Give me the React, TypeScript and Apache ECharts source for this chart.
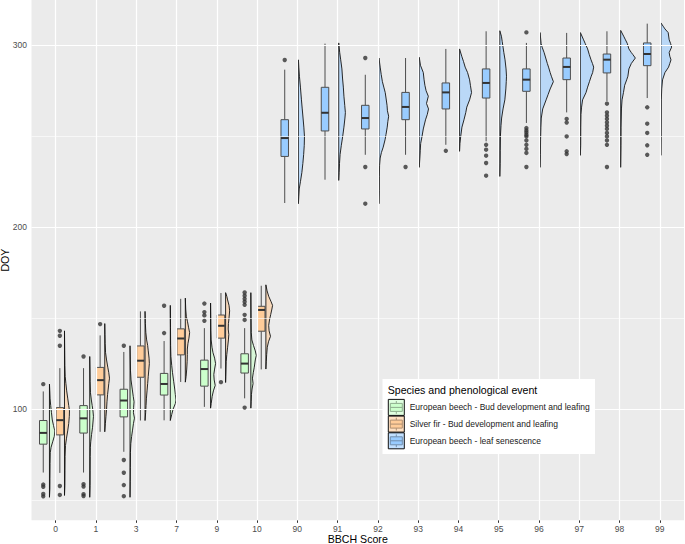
import { useEffect, useRef } from 'react';
import * as echarts from 'echarts';

// ---------- data ----------
const categories = ['0', '1', '3', '7', '9', '10', '90', '91', '92', '93', '94', '95', '96', '97', '98', '99'];
const yLabelValues = [100, 200, 300];
const majorGridY = [100, 200, 300];
const minorGridY = [50, 150, 250];
const seriesNames = [
  'European beech - Bud development and leafing',
  'Silver fir - Bud development and leafing',
  'European beech - leaf senescence',
];
const legendTitle = 'Species and phenological event';

// boxes: [categoryIndex, lowerWhisker, Q1, median, Q3, upperWhisker]
const beechBudBoxes = [
  [0, 65.1, 80.7, 86.9, 93.7, 109.7],
  [1, 65.1, 86.8, 94.9, 101.9, 122.5],
  [2, 76.5, 95.7, 104.7, 110.9, 131.4],
  [3, 93.8, 107.7, 113.8, 119.6, 137.4],
  [4, 101.2, 112.6, 122.0, 126.9, 144.5],
  [5, 105.9, 119.8, 125.0, 130.4, 144.5],
];
const firBudBoxes = [
  [0, 64.9, 85.8, 93.9, 100.8, 122.5],
  [1, 87.5, 107.8, 115.9, 122.9, 140.5],
  [2, 93.7, 117.5, 126.6, 134.7, 153.7],
  [3, 114.9, 129.8, 138.8, 144.1, 160.6],
  [4, 122.3, 139.0, 145.8, 151.7, 163.8],
  [5, 121.8, 142.8, 154.5, 156.5, 167.8],
];
const beechSenBoxes = [
  [6, 213.3, 238.9, 249.0, 259.1, 286.6],
  [7, 226.1, 252.9, 262.9, 276.9, 300.9],
  [8, 239.8, 254.0, 260.0, 267.0, 283.8],
  [9, 239.8, 259.1, 266.1, 274.1, 293.0],
  [10, 245.3, 265.0, 274.1, 279.3, 298.0],
  [11, 247.2, 271.0, 279.3, 287.0, 307.7],
  [12, 257.3, 274.7, 281.1, 287.0, 301.3],
  [13, 263.1, 281.1, 288.1, 293.0, 306.8],
  [14, 269.2, 284.8, 292.1, 295.2, 307.7],
  [15, 271.0, 288.8, 295.2, 301.3, 311.9],
];

// outliers: [categoryIndex, DOY]
const beechBudOutliers = [
  [0, 113.7], [0, 58.5], [0, 57.3], [0, 53.3], [0, 52.0],
  [1, 128.9], [1, 58.7], [1, 57.4], [1, 53.2], [1, 52.2],
  [2, 134.8], [2, 72.0], [2, 65.0], [2, 58.2], [2, 52.1],
  [3, 156.8], [3, 141.8],
  [4, 158.0], [4, 153.3], [4, 151.5], [4, 148.5],
  [5, 164.1], [5, 162.3], [5, 160.6], [5, 159.0], [5, 157.3], [5, 151.8], [5, 149.0], [5, 100.8],
];
const firBudOutliers = [
  [0, 143.0], [0, 140.3], [0, 134.8], [0, 57.7], [0, 52.8],
  [1, 146.7],
  [4, 114.8],
];
const beechSenOutliers = [
  [6, 291.9],
  [8, 293.0], [8, 233.1], [8, 212.9],
  [9, 233.1],
  [10, 242.0],
  [11, 245.3], [11, 242.6], [11, 239.3], [11, 235.3], [11, 228.3],
  [12, 307.1], [12, 254.5], [12, 253.2], [12, 252.1], [12, 250.8], [12, 249.9], [12, 247.7], [12, 245.3], [12, 243.0], [12, 240.8], [12, 233.1],
  [13, 259.5], [13, 257.5], [13, 249.9], [13, 241.7], [13, 240.2],
  [14, 267.9], [14, 263.1], [14, 261.3], [14, 259.5], [14, 257.6], [14, 255.8], [14, 254.0], [14, 251.8], [14, 249.9], [14, 247.7], [14, 245.3], [14, 233.1],
  [15, 265.9], [15, 256.9], [15, 251.8], [15, 245.0], [15, 239.8],
];

// half-violin densities: per category, list of [DOY, density (% of one category width)]
const beechBudViolinCats = [0, 1, 2, 3, 4, 5];
const beechBudViolins = [
  [[51.5, 0], [56, 1], [62, 1.2], [70, 1.5], [76, 2], [79, 4], [82, 8], [85, 12], [88, 13.2], [91, 10], [94, 7], [98, 5], [102, 3], [106, 1.5], [110, 0.8], [113.7, 0]],
  [[51.5, 0], [58, 0.8], [66, 1], [74, 1.2], [79, 1.5], [82, 2.5], [86, 4.5], [90, 7], [94, 8.5], [96, 9.2], [99, 8], [102, 6], [105, 4], [109, 1.8], [115, 1], [122, 0.6], [128.9, 0]],
  [[51.5, 0], [60, 0.5], [68, 0.8], [76, 1], [81, 2], [85, 4], [88, 6], [92, 8.5], [95, 11], [98, 8.5], [101, 9], [104, 10], [107, 8], [111, 5.5], [116, 2.5], [121, 1.2], [127, 0.7], [134.8, 0]],
  [[93.7, 0], [97, 3.5], [100, 7], [103, 12.5], [105, 14], [108, 12.5], [111, 11], [115, 8.5], [120, 5.5], [124, 3.5], [129, 1.5], [135, 0.8], [145, 0.5], [157, 0]],
  [[100.5, 0], [103, 1.5], [107, 4], [110, 7], [113, 11.5], [116, 9], [119, 8], [122, 10], [125, 12.4], [128, 10], [131, 6], [134, 3.5], [138, 1.5], [143, 0.8], [150, 0.5], [158.3, 0]],
  [[100.5, 0], [104, 0.8], [108, 1.5], [111, 3], [114, 5.5], [117, 4], [120, 6], [123, 8.5], [127, 11], [129.5, 13.5], [132, 11], [135, 6.5], [138, 2.5], [142, 1], [150, 0.5], [164, 0]],
];
const firBudViolinCats = [0, 1, 2, 3, 4, 5];
const firBudViolins = [
  [[52.5, 0], [58, 1], [66, 1.2], [74, 1.5], [80, 2.5], [84, 5], [88, 8], [92, 10.5], [96, 12], [99, 12.4], [102, 10.5], [106, 8], [110, 5.5], [114, 3.5], [118, 1.8], [124, 1], [132, 0.6], [143, 0]],
  [[87.5, 0], [92, 1.5], [96, 3], [100, 4.5], [104, 5.5], [108, 7], [111, 8.5], [114, 10], [117, 11.7], [120, 10], [123, 7.5], [127, 4.5], [131, 2], [136, 1], [141, 0.5], [147, 0]],
  [[93.7, 0], [98, 1.5], [102, 2.5], [106, 3.5], [110, 5], [114, 6.5], [118, 8], [122, 9.5], [125, 10.7], [128, 10], [132, 8], [135, 6.5], [138, 4], [142, 2], [147, 0.8], [153.7, 0]],
  [[114.8, 0], [118, 2], [122, 3.5], [126, 4.5], [130, 5], [133, 5], [136, 6.5], [139, 9], [142, 10.7], [145, 8], [148, 5.5], [151, 2.5], [155, 1], [161, 0]],
  [[114.6, 0], [118, 0.5], [122, 1], [126, 1.5], [130, 3], [134, 5], [138, 7], [141, 8], [144, 6.5], [147, 7], [150, 8.5], [154, 10], [157, 8.5], [160, 5], [162, 3], [164, 0]],
  [[122, 0], [126, 1], [130, 2], [134, 3.5], [137, 6.5], [140, 11.5], [143, 8], [146, 7], [149, 9], [152, 12], [155, 15], [157, 16.6], [159, 13], [162, 7], [165, 3], [168.3, 0]],
];
const beechSenViolinCats = [6, 7, 8, 9, 10, 11, 12, 13, 14, 15];
const beechSenViolins = [
  [[212.9, 0], [217, 1], [221, 2], [225, 5], [230, 8.5], [235, 11], [240, 13], [245, 14.5], [250, 15], [255, 13.5], [260, 11.5], [265, 9.5], [270, 7.5], [277, 5], [283, 2.5], [288, 1], [292, 0]],
  [[225.7, 0], [230, 1], [235, 2], [240, 3.5], [245, 6.5], [250, 10], [255, 13], [260, 15.5], [263, 16.6], [267, 15], [272, 13], [277, 11.5], [282, 9.5], [287, 8], [292, 5], [296, 2.5], [301.3, 0]],
  [[212.9, 0], [220, 0.8], [228, 1], [234, 1.5], [238, 3], [241, 6], [244, 10.5], [248, 15], [251, 17.5], [255, 20.5], [258, 22], [261, 24], [264, 21], [267, 20], [271, 17.5], [274, 15.5], [277, 12], [280, 8.5], [284, 5.5], [288, 3], [293, 0]],
  [[232.9, 0], [238, 1.5], [242, 2.5], [246, 3.5], [250, 7], [254, 10], [259, 15.5], [262, 20], [265, 23], [268, 18], [272, 22.5], [275, 17], [278, 14], [281, 12], [285, 10], [289, 3], [293.4, 0]],
  [[241.7, 0], [246, 1], [250, 3], [255, 6], [259, 11], [263, 15.5], [266, 18], [270, 25], [274, 29.8], [278, 27], [281, 25], [285, 20], [288, 14], [291, 10], [294, 5.5], [298, 0]],
  [[227.9, 0], [235, 0.8], [242, 1], [250, 1.5], [256, 3], [260, 4.5], [265, 8], [270, 12.5], [276, 15], [280, 16], [283, 16.6], [287, 15.5], [292, 13], [296, 10], [299, 8], [302, 6], [305, 4], [308, 0]],
  [[232.9, 0], [240, 0.8], [248, 1.2], [255, 2], [260, 3], [265, 6.5], [270, 15], [273, 20], [276, 25], [280, 33], [283, 28], [285, 25], [288, 21], [290, 18], [293, 14], [296, 10], [299, 5], [301, 2.5], [307, 0]],
  [[239.5, 0], [245, 0.8], [255, 1], [262, 1.5], [266, 3], [270, 5.5], [274, 14], [277, 18], [280, 22.5], [283, 27], [285, 30.5], [288, 33], [290, 30], [292, 26.5], [295, 22], [298, 18], [301, 12], [303, 8], [307, 0]],
  [[232.9, 0], [245, 0.8], [255, 1], [265, 2], [270, 3.5], [274, 7], [278, 10], [281, 15], [283, 18], [287, 20.5], [290, 26.5], [293, 36.5], [295, 30], [296, 26.5], [298, 20.5], [301, 16.5], [303, 12], [305, 7.5], [308.2, 0]],
  [[239.5, 0], [250, 0.5], [260, 0.8], [270, 1], [276, 2], [281, 4], [285, 10], [288, 19], [290, 22], [292, 25], [294, 22], [296, 20.5], [299, 26.6], [301, 24], [303, 20.5], [307, 18], [309, 10], [310.5, 5.5], [312.3, 0]],
];

// ---------- layout / style ----------
const FONT = "'Liberation Sans', Arial, Helvetica, sans-serif";
const BOX_W = 0.186;
const Y_MIN = 38.9;
const Y_MAX = 324.9;
const X_MIN = -0.6;
const X_MAX = 15.6;
const GROUPS = [
  { boxes: beechBudBoxes, outliers: beechBudOutliers, vCats: beechBudViolinCats, violins: beechBudViolins, boxOff: -0.308, vOff: -0.154, fill: '#CCFFCC', vFill: 'rgba(204,255,204,0.6)' },
  { boxes: firBudBoxes, outliers: firBudOutliers, vCats: firBudViolinCats, violins: firBudViolins, boxOff: 0.104, vOff: 0.219, fill: '#FFCC99', vFill: 'rgba(255,204,153,0.6)' },
  { boxes: beechSenBoxes, outliers: beechSenOutliers, vCats: beechSenViolinCats, violins: beechSenViolins, boxOff: -0.313, vOff: 0.027, fill: '#99CCFF', vFill: 'rgba(153,204,255,0.6)' },
];

function buildOption() {
  const catIdx = categories.map((_, i) => i);
  const series: any[] = [];

  series.push({
    type: 'scatter',
    name: 'grid',
    data: [],
    silent: true,
    z: 1,
    markLine: {
      silent: true,
      symbol: ['none', 'none'],
      label: { show: false },
      emphasis: { disabled: true },
      animation: false,
      data: [
        ...minorGridY.map((v) => ({ yAxis: v, lineStyle: { color: '#FFFFFF', width: 0.6, type: 'solid' } })),
        ...majorGridY.map((v) => ({ yAxis: v, lineStyle: { color: '#FFFFFF', width: 1.2, type: 'solid' } })),
        ...catIdx.map((v) => ({ xAxis: v, lineStyle: { color: '#FFFFFF', width: 1.2, type: 'solid' } })),
      ],
    },
  });

  GROUPS.forEach((g, gi) => {
    const shapes = g.violins;
    series.push({
      type: 'custom',
      name: seriesNames[gi] + ' violin',
      silent: true,
      z: 3,
      data: g.vCats.map((c, i) => [c, shapes[i][0][0], shapes[i][shapes[i].length - 1][0]]),
      encode: { x: 0, y: [1, 2] },
      renderItem: (params: any, api: any) => {
        const cat = api.value(0);
        const shape = shapes[params.dataIndex];
        const unit = api.size([1, 0])[0];
        const base = api.coord([cat + g.vOff, 100])[0];
        const pts = shape.map(([doy, d]: number[]) => [base + (d / 100) * unit, api.coord([cat + g.vOff, doy])[1]]);
        pts.push([base, pts[pts.length - 1][1]]);
        pts.push([base, pts[0][1]]);
        return {
          type: 'polygon',
          shape: { points: pts },
          style: { fill: g.vFill, stroke: '#111111', lineWidth: 0.9 },
        };
      },
    });
  });

  GROUPS.forEach((g, gi) => {
    series.push({
      type: 'custom',
      name: seriesNames[gi],
      silent: true,
      z: 4,
      data: g.boxes,
      encode: { x: 0, y: [1, 2, 3, 4, 5] },
      renderItem: (params: any, api: any) => {
        const xc = api.value(0) + g.boxOff;
        const half = api.size([BOX_W, 0])[0] / 2;
        const pLo = api.coord([xc, api.value(1)]);
        const yQ1 = api.coord([xc, api.value(2)])[1];
        const yMed = api.coord([xc, api.value(3)])[1];
        const yQ3 = api.coord([xc, api.value(4)])[1];
        const yHi = api.coord([xc, api.value(5)])[1];
        const x = pLo[0];
        const wStyle = { stroke: '#4D4D4D', lineWidth: 1 };
        return {
          type: 'group',
          children: [
            { type: 'line', shape: { x1: x, y1: yHi, x2: x, y2: yQ3 }, style: wStyle },
            { type: 'line', shape: { x1: x, y1: yQ1, x2: x, y2: pLo[1] }, style: wStyle },
            { type: 'rect', shape: { x: x - half, y: yQ3, width: half * 2, height: yQ1 - yQ3 }, style: { fill: g.fill, stroke: '#4D4D4D', lineWidth: 1 } },
            { type: 'line', shape: { x1: x - half, y1: yMed, x2: x + half, y2: yMed }, style: { stroke: '#333333', lineWidth: 2 } },
          ],
        };
      },
    });
  });

  GROUPS.forEach((g, gi) => {
    series.push({
      type: 'scatter',
      name: seriesNames[gi] + ' outliers',
      silent: true,
      z: 5,
      symbol: 'circle',
      symbolSize: 4.4,
      itemStyle: { color: '#333333' },
      data: g.outliers.map(([c, v]) => [c + g.boxOff, v]),
    });
  });

  // legend drawn as graphic (ggplot style keys)
  const LX = 382.5;
  const LY = 379;
  const keyX = 388.3;
  const keyY0 = 399.4;
  const keyStep = 16.7;
  const keyS = 16;
  const graphic: any[] = [
    { type: 'rect', z: 100, shape: { x: LX, y: LY, width: 212.5, height: 75 }, style: { fill: '#FFFFFF' } },
    { type: 'text', z: 101, x: 387.7, y: 389.6, style: { text: legendTitle, font: `10.6px ${FONT}`, fill: '#000000', verticalAlign: 'middle', align: 'left' } },
  ];
  GROUPS.forEach((g, i) => {
    const ky = keyY0 + i * keyStep;
    const cx = keyX + keyS / 2;
    const ls = { stroke: '#333333', lineWidth: 1 };
    graphic.push(
      { type: 'line', z: 101, shape: { x1: cx, y1: ky + keyS * 0.1, x2: cx, y2: ky + keyS * 0.25 }, style: ls },
      { type: 'line', z: 101, shape: { x1: cx, y1: ky + keyS * 0.75, x2: cx, y2: ky + keyS * 0.9 }, style: ls },
      { type: 'rect', z: 101, shape: { x: keyX + keyS * 0.125, y: ky + keyS * 0.25, width: keyS * 0.75, height: keyS * 0.5 }, style: { fill: g.fill, stroke: '#333333', lineWidth: 1 } },
      { type: 'line', z: 101, shape: { x1: keyX + keyS * 0.125, y1: ky + keyS * 0.5, x2: keyX + keyS * 0.875, y2: ky + keyS * 0.5 }, style: ls },
      { type: 'rect', z: 102, shape: { x: keyX, y: ky, width: keyS, height: keyS }, style: { fill: g.vFill, stroke: '#111111', lineWidth: 1 } },
      { type: 'text', z: 102, x: 409.7, y: ky + keyS / 2, style: { text: seriesNames[i], font: `8.5px ${FONT}`, fill: '#1A1A1A', verticalAlign: 'middle', align: 'left' } },
    );
  });

  return {
    animation: false,
    backgroundColor: '#FFFFFF',
    grid: { left: 31.5, right: 1, top: 0, bottom: 23.8, show: true, backgroundColor: '#EBEBEB', borderWidth: 0, containLabel: false, outerBoundsMode: 'none' },
    xAxis: {
      type: 'value',
      min: X_MIN,
      max: X_MAX,
      name: 'BBCH Score',
      nameLocation: 'middle',
      nameGap: 13.4,
      nameMoveOverlap: false,
      nameTextStyle: { fontFamily: FONT, fontSize: 10.6, lineHeight: 10.8, color: '#000000', verticalAlign: 'top' },
      axisLine: { show: false },
      splitLine: { show: false },
      axisTick: { show: true, length: 2.65, lineStyle: { color: '#333333', width: 1 }, customValues: catIdx },
      axisLabel: { customValues: catIdx, formatter: (v: number) => categories[Math.round(v)], fontFamily: FONT, fontSize: 8.5, lineHeight: 8.8, color: '#4D4D4D', margin: 4.2 },
    },
    yAxis: {
      type: 'value',
      min: Y_MIN,
      max: Y_MAX,
      name: 'DOY',
      nameLocation: 'middle',
      nameRotate: 90,
      nameGap: 21,
      nameMoveOverlap: false,
      nameTextStyle: { fontFamily: FONT, fontSize: 10.6, color: '#000000' },
      axisLine: { show: false },
      splitLine: { show: false },
      axisTick: { show: true, length: 2.65, lineStyle: { color: '#333333', width: 1 }, customValues: yLabelValues },
      axisLabel: { customValues: yLabelValues, fontFamily: FONT, fontSize: 8.5, color: '#4D4D4D', margin: 4.6 },
    },
    series,
    graphic,
  };
}

export default function App() {
  const ref = useRef<HTMLDivElement>(null);
  useEffect(() => {
    if (!ref.current) return;
    const chart = echarts.init(ref.current, undefined, { renderer: 'svg' });
    chart.setOption(buildOption() as any);
    return () => chart.dispose();
  }, []);
  return <div ref={ref} style={{ position: 'fixed', left: 0, top: 0, width: 685, height: 544 }} />;
}
